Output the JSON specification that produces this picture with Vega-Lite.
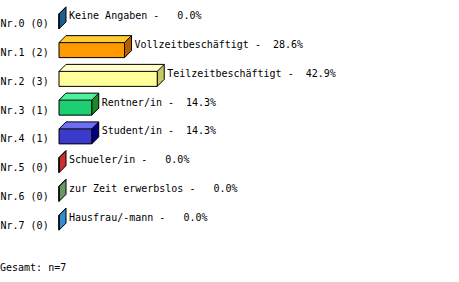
{
  "$schema": "https://vega.github.io/schema/vega-lite/v6.json",
  "width": 229,
  "height": 230,
  "autosize": "none",
  "padding": {"left": 59, "top": 7, "right": 171, "bottom": 45},
  "background": "white",
  "config": {"view": {"stroke": null}, "font": "DejaVu Sans Mono"},
  "title": {
    "text": "Gesamt: n=7",
    "orient": "bottom",
    "anchor": "start",
    "frame": "group",
    "dx": -59,
    "offset": 33.5,
    "baseline": "alphabetic",
    "font": "DejaVu Sans Mono",
    "fontSize": 10,
    "fontWeight": "normal",
    "color": "black"
  },
  "data": {
    "values": [
      {"nr": "Nr.0 (0)", "n": 0, "pct": 0.0, "label": "Keine Angaben -\u00a0\u00a0\u00a00.0%"},
      {"nr": "Nr.1 (2)", "n": 2, "pct": 28.6, "label": "Vollzeitbeschäftigt -\u00a0\u00a028.6%"},
      {"nr": "Nr.2 (3)", "n": 3, "pct": 42.9, "label": "Teilzeitbeschäftigt -\u00a0\u00a042.9%"},
      {"nr": "Nr.3 (1)", "n": 1, "pct": 14.3, "label": "Rentner/in -\u00a0\u00a014.3%"},
      {"nr": "Nr.4 (1)", "n": 1, "pct": 14.3, "label": "Student/in -\u00a0\u00a014.3%"},
      {"nr": "Nr.5 (0)", "n": 0, "pct": 0.0, "label": "Schueler/in -\u00a0\u00a0\u00a00.0%"},
      {"nr": "Nr.6 (0)", "n": 0, "pct": 0.0, "label": "zur Zeit erwerbslos -\u00a0\u00a0\u00a00.0%"},
      {"nr": "Nr.7 (0)", "n": 0, "pct": 0.0, "label": "Hausfrau/-mann -\u00a0\u00a0\u00a00.0%"}
    ]
  },
  "encoding": {
    "y": {
      "field": "nr",
      "type": "nominal",
      "sort": null,
      "scale": {"paddingInner": 0, "paddingOuter": 0},
      "axis": {
        "title": null,
        "domain": false,
        "ticks": false,
        "tickSize": 0,
        "grid": false,
        "labelAlign": "left",
        "labelPadding": 59,
        "labelBaseline": "alphabetic",
        "labelOffset": 6,
        "labelFont": "DejaVu Sans Mono",
        "labelFontSize": 10,
        "labelColor": "black",
        "labelLimit": 0
      }
    }
  },
  "layer": [
    {
      "mark": {"type": "bar", "height": 7, "yOffset": -11, "xOffset": 7, "x2Offset": 7},
      "encoding": {
        "x": {"field": "pct", "type": "quantitative", "scale": {"domain": [0, 100], "nice": false}, "axis": null},
        "x2": {"datum": 0},
        "fill": {"field": "nr", "type": "nominal", "legend": null,
          "scale": {"range": ["#3a8ac0", "#ffcc33", "#ffffcc", "#4cf29a", "#6e6ef5", "#ff6666", "#99cc99", "#66bbee"]}}
      }
    },
    {
      "mark": {"type": "point", "shape": "M0,-7.5L7,-14.5L7,-7.5Z", "size": 4, "filled": true, "opacity": 1, "strokeWidth": 0},
      "encoding": {
        "x": {"datum": 0, "type": "quantitative"},
        "fill": {"field": "nr", "type": "nominal", "legend": null,
          "scale": {"range": ["#3a8ac0", "#ffcc33", "#ffffcc", "#4cf29a", "#6e6ef5", "#ff6666", "#99cc99", "#66bbee"]}}
      }
    },
    {
      "mark": {"type": "point", "shape": "M0,-7.5L7,-14.5L7,0.5L0,7.5Z", "size": 4, "filled": true, "opacity": 1, "stroke": "black", "strokeWidth": 1},
      "encoding": {
        "x": {"field": "pct", "type": "quantitative"},
        "fill": {"field": "nr", "type": "nominal", "legend": null,
          "scale": {"range": ["#17608f", "#b85c00", "#c8c864", "#188a28", "#00007f", "#c83030", "#6a9a62", "#2f8fcf"]}}
      }
    },
    {
      "mark": {"type": "bar", "height": 15, "stroke": "black", "strokeWidth": 1},
      "encoding": {
        "x": {"field": "pct", "type": "quantitative"},
        "x2": {"datum": 0},
        "fill": {"field": "nr", "type": "nominal", "legend": null,
          "scale": {"range": ["#1c6aa0", "#ff9900", "#ffff99", "#1ccf70", "#3a3acb", "#e04040", "#7aae72", "#3aa0dc"]}}
      }
    },
    {
      "mark": {"type": "rule", "color": "black", "strokeWidth": 1, "xOffset": 7, "x2Offset": 7, "yOffset": -14.5},
      "encoding": {
        "x": {"field": "pct", "type": "quantitative"},
        "x2": {"datum": 0}
      }
    },
    {
      "mark": {"type": "point", "shape": "M0,-7.5L7,-14.5", "size": 4, "filled": false, "opacity": 1, "stroke": "black", "strokeWidth": 1},
      "encoding": {
        "x": {"datum": 0, "type": "quantitative"}
      }
    },
    {
      "mark": {"type": "text", "align": "left", "baseline": "alphabetic", "dx": 10, "dy": -2, "font": "DejaVu Sans Mono", "fontSize": 10, "color": "black"},
      "encoding": {
        "x": {"field": "pct", "type": "quantitative"},
        "text": {"field": "label", "type": "nominal"}
      }
    }
  ],
  "resolve": {"scale": {"fill": "independent"}}
}
